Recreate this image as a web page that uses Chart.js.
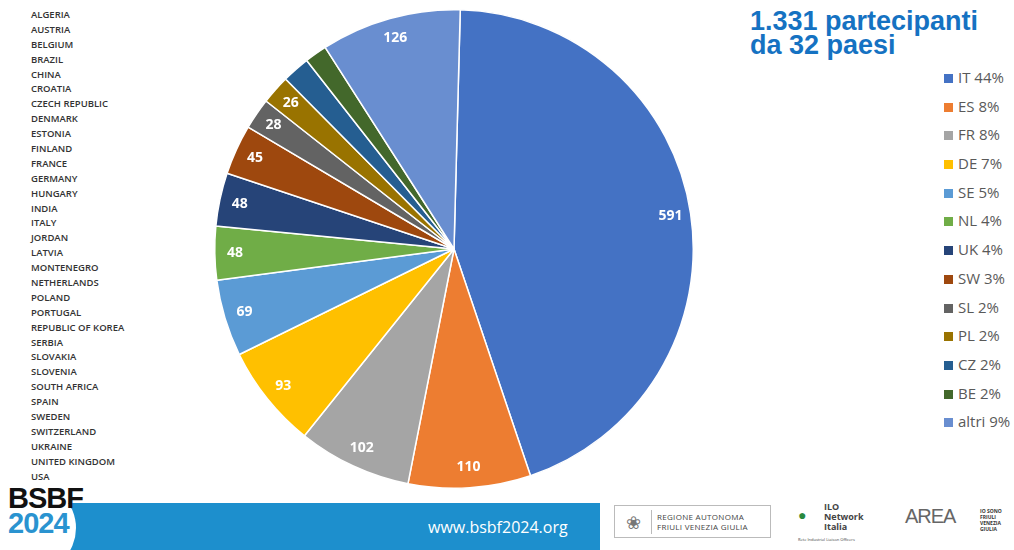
<!DOCTYPE html>
<html>
<head>
<meta charset="utf-8">
<script src="https://cdn.jsdelivr.net/npm/chart.js@4.4.1/dist/chart.umd.min.js"></script>
<style>
  html, body { margin: 0; padding: 0; background: #fff; }
  #page { position: relative; width: 1014px; height: 550px; overflow: hidden; font-family: "Open Sans", "Noto Sans", sans-serif; }
  #countries { position: absolute; left: 31px; top: 8px; margin: 0; padding: 0; list-style: none; }
  #countries li { height: 14.9px; line-height: 14.9px; font-size: 9.5px; font-weight: 600; color: #333; white-space: nowrap; }
  #pieWrap { position: absolute; left: 213px; top: 9px; width: 482px; height: 480px; }
  #title { position: absolute; left: 750px; top: 9px; font-family: "Liberation Sans", Arial, sans-serif; font-weight: bold; font-size: 27px; line-height: 24px; color: #1572c2; }
  #legend { position: absolute; left: 944px; top: 63px; margin: 0; padding: 0; list-style: none; }
  #legend li { height: 28.7px; line-height: 28px; font-size: 15px; color: #595959; white-space: nowrap; }
  #legend span.box { display: inline-block; width: 9px; height: 9px; margin-right: 5px; vertical-align: 0px; }
  #footer { position: absolute; left: 0; top: 503px; width: 600px; height: 47px; background: #1d8fcd; }
  #footer .notch { position: absolute; left: -40px; top: -20px; width: 116px; height: 90px; background: #fff; border-radius: 0 60px 60px 0; }
  #footer .url { position: absolute; left: 428px; top: 13px; font-size: 16px; color: #fff; font-family: "Open Sans", sans-serif; }
  #logo { position: absolute; left: 8px; top: 486px; font-family: "Liberation Sans", Arial, sans-serif; font-weight: bold; font-size: 29px; line-height: 25px; }
  #logo .a { color: #111; letter-spacing: -1px; }
  #logo .b { color: #2a93d0; letter-spacing: -1px; }
  #regione { position: absolute; left: 614px; top: 505px; width: 157px; height: 33px; border: 1px solid #bbb; box-sizing: border-box; }
  #regione .icon { position: absolute; left: 6px; top: 4px; width: 24px; height: 24px; border-right: 1px solid #bbb; padding-right: 6px; font-size: 18px; color: #777; text-align: center; line-height: 24px; }
  #regione .txt { position: absolute; left: 42px; top: 6px; font-size: 8px; line-height: 10px; color: #444; letter-spacing: 0.3px; }
  #ilo { position: absolute; left: 798px; top: 502px; font-size: 9px; font-weight: bold; line-height: 10px; color: #444; }
  #ilo .flag { position: absolute; left: 0; top: 8px; width: 20px; height: 18px; font-size: 14px; color: #2a8a3e; }
  #ilo .t { position: absolute; left: 26px; top: 0; }
  #ilo .s { position: absolute; left: 0; top: 33px; font-size: 4px; font-weight: normal; white-space: nowrap; }
  #area { position: absolute; left: 905px; top: 505px; font-size: 20px; color: #666; letter-spacing: -1px; font-family: "Liberation Sans", sans-serif; }
  #fvg { position: absolute; left: 980px; top: 508px; font-size: 5px; line-height: 6px; font-weight: bold; color: #333; }
</style>
</head>
<body>
<div id="page">
  <ul id="countries"></ul>
  <div id="pieWrap"><canvas id="pie"></canvas></div>
  <div id="title">1.331 partecipanti<br>da 32 paesi</div>
  <ul id="legend"></ul>
  <div id="footer"><div class="notch"></div><div class="url">www.bsbf2024.org</div></div>
  <div id="logo"><span class="a">BSBF</span><br><span class="b">2024</span></div>
  <div id="regione"><div class="icon">&#10048;</div><div class="txt">REGIONE AUTONOMA<br>FRIULI VENEZIA GIULIA</div></div>
  <div id="ilo"><div class="flag">&#9679;</div><div class="t">ILO<br>Network<br>Italia</div><div class="s">Rete Industrial Liaison Officers</div></div>
  <div id="area">AREA</div>
  <div id="fvg">IO SONO<br>FRIULI<br>VENEZIA<br>GIULIA</div>
</div>
<script>
(function() {
    'use strict';

    // Participants per country (reference pie)
    const labels = ['IT 44%', 'ES 8%', 'FR 8%', 'DE 7%', 'SE 5%', 'NL 4%', 'UK 4%', 'SW 3%', 'SL 2%', 'PL 2%', 'CZ 2%', 'BE 2%', 'altri 9%'];
    const values = [591, 110, 102, 93, 69, 48, 48, 45, 28, 26, 25, 20, 126];
    const colors = ['#4472c4', '#ed7d31', '#a5a5a5', '#ffc000', '#5b9bd5', '#70ad47', '#264478', '#9e480e', '#636363', '#997300', '#255e91', '#43682b', '#698ed0'];

    // Full list of participating countries (left column)
    const countries = ['ALGERIA', 'AUSTRIA', 'BELGIUM', 'BRAZIL', 'CHINA', 'CROATIA', 'CZECH REPUBLIC', 'DENMARK',
        'ESTONIA', 'FINLAND', 'FRANCE', 'GERMANY', 'HUNGARY', 'INDIA', 'ITALY', 'JORDAN', 'LATVIA', 'MONTENEGRO',
        'NETHERLANDS', 'POLAND', 'PORTUGAL', 'REPUBLIC OF KOREA', 'SERBIA', 'SLOVAKIA', 'SLOVENIA', 'SOUTH AFRICA',
        'SPAIN', 'SWEDEN', 'SWITZERLAND', 'UKRAINE', 'UNITED KINGDOM', 'USA'];

    // small slices carry no value label
    const minLabelValue = 26;

    const countryList = document.getElementById('countries');
    countries.forEach(function(name) {
        const li = document.createElement('li');
        li.textContent = name;
        countryList.appendChild(li);
    });

    const legendList = document.getElementById('legend');
    labels.forEach(function(text, i) {
        const li = document.createElement('li');
        const box = document.createElement('span');
        box.className = 'box';
        box.style.background = colors[i];
        li.appendChild(box);
        li.appendChild(document.createTextNode(text));
        legendList.appendChild(li);
    });

    /**
     * Value labels drawn near the rim of each slice
     */
    const sliceLabels = {
        id: 'sliceLabels',
        afterDatasetsDraw: function(chart) {
            const ctx = chart.ctx;
            const meta = chart.getDatasetMeta(0);
            ctx.save();
            ctx.font = 'bold 14px "Open Sans", sans-serif';
            ctx.fillStyle = '#ffffff';
            ctx.textAlign = 'center';
            ctx.textBaseline = 'middle';
            meta.data.forEach(function(arc, i) {
                if (values[i] < minLabelValue) return;
                const p = arc.getProps(['x', 'y', 'startAngle', 'endAngle', 'outerRadius'], true);
                const mid = (p.startAngle + p.endAngle) / 2;
                const r = p.outerRadius * 0.915;
                ctx.fillText(values[i], p.x + Math.cos(mid) * r, p.y + Math.sin(mid) * r);
            });
            ctx.restore();
        }
    };

    new Chart(document.getElementById('pie'), {
        type: 'pie',
        data: {
            labels: labels,
            datasets: [{
                data: values,
                backgroundColor: colors,
                borderColor: '#ffffff',
                borderWidth: 1.5
            }]
        },
        options: {
            responsive: true,
            maintainAspectRatio: false,
            animation: false,
            rotation: 1.5,
            layout: { padding: 0 },
            plugins: {
                legend: { display: false },
                tooltip: { enabled: false }
            }
        },
        plugins: [sliceLabels]
    });
})();
</script>
</body>
</html>
